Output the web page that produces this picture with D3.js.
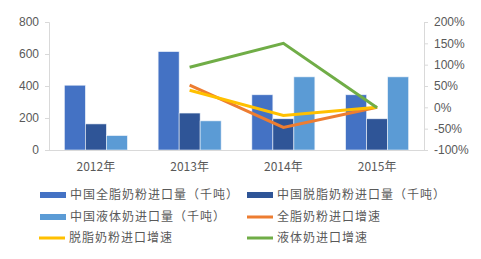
<!DOCTYPE html>
<html>
<head>
<meta charset="utf-8">
<script src="https://cdn.jsdelivr.net/npm/d3@7"></script>
<style>
  body { margin: 0; background: #fff; }
  svg text { fill: #595959; }
</style>
</head>
<body>
<svg id="chart" width="481" height="259"></svg>
<script>
const years = ['2012年', '2013年', '2014年', '2015年'];
const fullFat = [405, 615, 345, 345];
const skim = [163, 231, 195, 195];
const liquid = [90, 182, 457, 457];
const fullFatGrowth = [null, 52, -47, 0];
const skimGrowth = [null, 40, -19, 0];
const liquidGrowth = [null, 94, 150, -1];
const leftTicks = [0, 200, 400, 600, 800];
const rightTicks = [-100, -50, 0, 50, 100, 150, 200];

const barSeries = [
  {name: '中国全脂奶粉进口量（千吨）', values: fullFat, color: '#4472C4'},
  {name: '中国脱脂奶粉进口量（千吨）', values: skim, color: '#2F5597'},
  {name: '中国液体奶进口量（千吨）', values: liquid, color: '#5B9BD5'}
];
const lineSeries = [
  {name: '全脂奶粉进口增速', values: fullFatGrowth, color: '#ED7D31'},
  {name: '脱脂奶粉进口增速', values: skimGrowth, color: '#FFC000'},
  {name: '液体奶进口增速', values: liquidGrowth, color: '#70AD47'}
];

const svg = d3.select('#chart');
const plotLeft = 49, plotRight = 424, plotTop = 22, plotBottom = 150;

const x = d3.scaleBand().domain(years).range([plotLeft, plotRight])
    .paddingInner(0.328).paddingOuter(0.164);
const xs = d3.scaleBand().domain(d3.range(barSeries.length)).range([0, x.bandwidth()]);
const y = d3.scaleLinear().domain([0, 800]).range([plotBottom, plotTop]);
const y2 = d3.scaleLinear().domain([-100, 200]).range([plotBottom, plotTop]);

// axes
const gl = svg.append('g').attr('transform', 'translate(' + plotLeft + ',0)')
    .call(d3.axisLeft(y).tickValues(leftTicks).tickSize(4).tickPadding(6));
const gr = svg.append('g').attr('transform', 'translate(' + plotRight + ',0)')
    .call(d3.axisRight(y2).tickValues(rightTicks).tickSize(4).tickPadding(6)
      .tickFormat(d => d + '%'));
[gl, gr].forEach(g => {
  g.select('.domain').attr('stroke', '#d9d9d9');
  g.selectAll('.tick line').attr('stroke', '#d9d9d9');
  g.selectAll('.tick text').attr('font-family', 'Liberation Sans, sans-serif')
    .attr('font-size', 12).attr('fill', '#595959');
});

// bars
barSeries.forEach((s, k) => {
  svg.append('g').selectAll('rect')
    .data(s.values)
    .enter().append('rect')
    .attr('x', (d, i) => x(years[i]) + xs(k))
    .attr('y', d => y(d))
    .attr('width', xs.bandwidth())
    .attr('height', d => y(0) - y(d))
    .attr('fill', s.color)
    .attr('stroke', '#eef3fa')
    .attr('stroke-width', 0.6);
});

// x axis line
svg.append('line')
  .attr('x1', plotLeft - 4).attr('x2', plotRight)
  .attr('y1', plotBottom + 0.5).attr('y2', plotBottom + 0.5)
  .attr('stroke', '#d9d9d9');

svg.append('g').selectAll('text')
  .data(years)
  .enter().append('text')
  .attr('x', d => x(d) + x.bandwidth() / 2)
  .attr('y', 171)
  .attr('text-anchor', 'middle')
  .attr('font-family', 'Noto Sans CJK SC, sans-serif')
  .attr('font-size', 12)
  .text(d => d);

// growth lines
const line = d3.line()
  .defined(d => d.v !== null)
  .x(d => x(d.year) + x.bandwidth() / 2)
  .y(d => y2(d.v));

lineSeries.forEach(s => {
  svg.append('path')
    .datum(s.values.map((v, i) => ({year: years[i], v: v})))
    .attr('d', line)
    .attr('fill', 'none')
    .attr('stroke', s.color)
    .attr('stroke-width', 3);
});

// legend
const legendItems = [
  {s: barSeries[0], bar: true, x: 40, y: 195},
  {s: barSeries[1], bar: true, x: 247, y: 195},
  {s: barSeries[2], bar: true, x: 40, y: 217},
  {s: lineSeries[0], bar: false, x: 247, y: 217},
  {s: lineSeries[1], bar: false, x: 39, y: 238},
  {s: lineSeries[2], bar: false, x: 247, y: 238}
];
const lg = svg.append('g').selectAll('g')
  .data(legendItems)
  .enter().append('g')
  .attr('transform', d => 'translate(' + d.x + ',' + d.y + ')');
lg.append('rect')
  .attr('x', 0)
  .attr('y', d => d.bar ? -3 : -1.5)
  .attr('width', 26)
  .attr('height', d => d.bar ? 6 : 3)
  .attr('fill', d => d.s.color);
lg.append('text')
  .attr('x', 30)
  .attr('dy', '0.35em')
  .attr('font-family', 'Noto Sans CJK SC, sans-serif')
  .attr('font-size', 12)
  .attr('letter-spacing', 1)
  .text(d => d.s.name);
</script>
</body>
</html>
